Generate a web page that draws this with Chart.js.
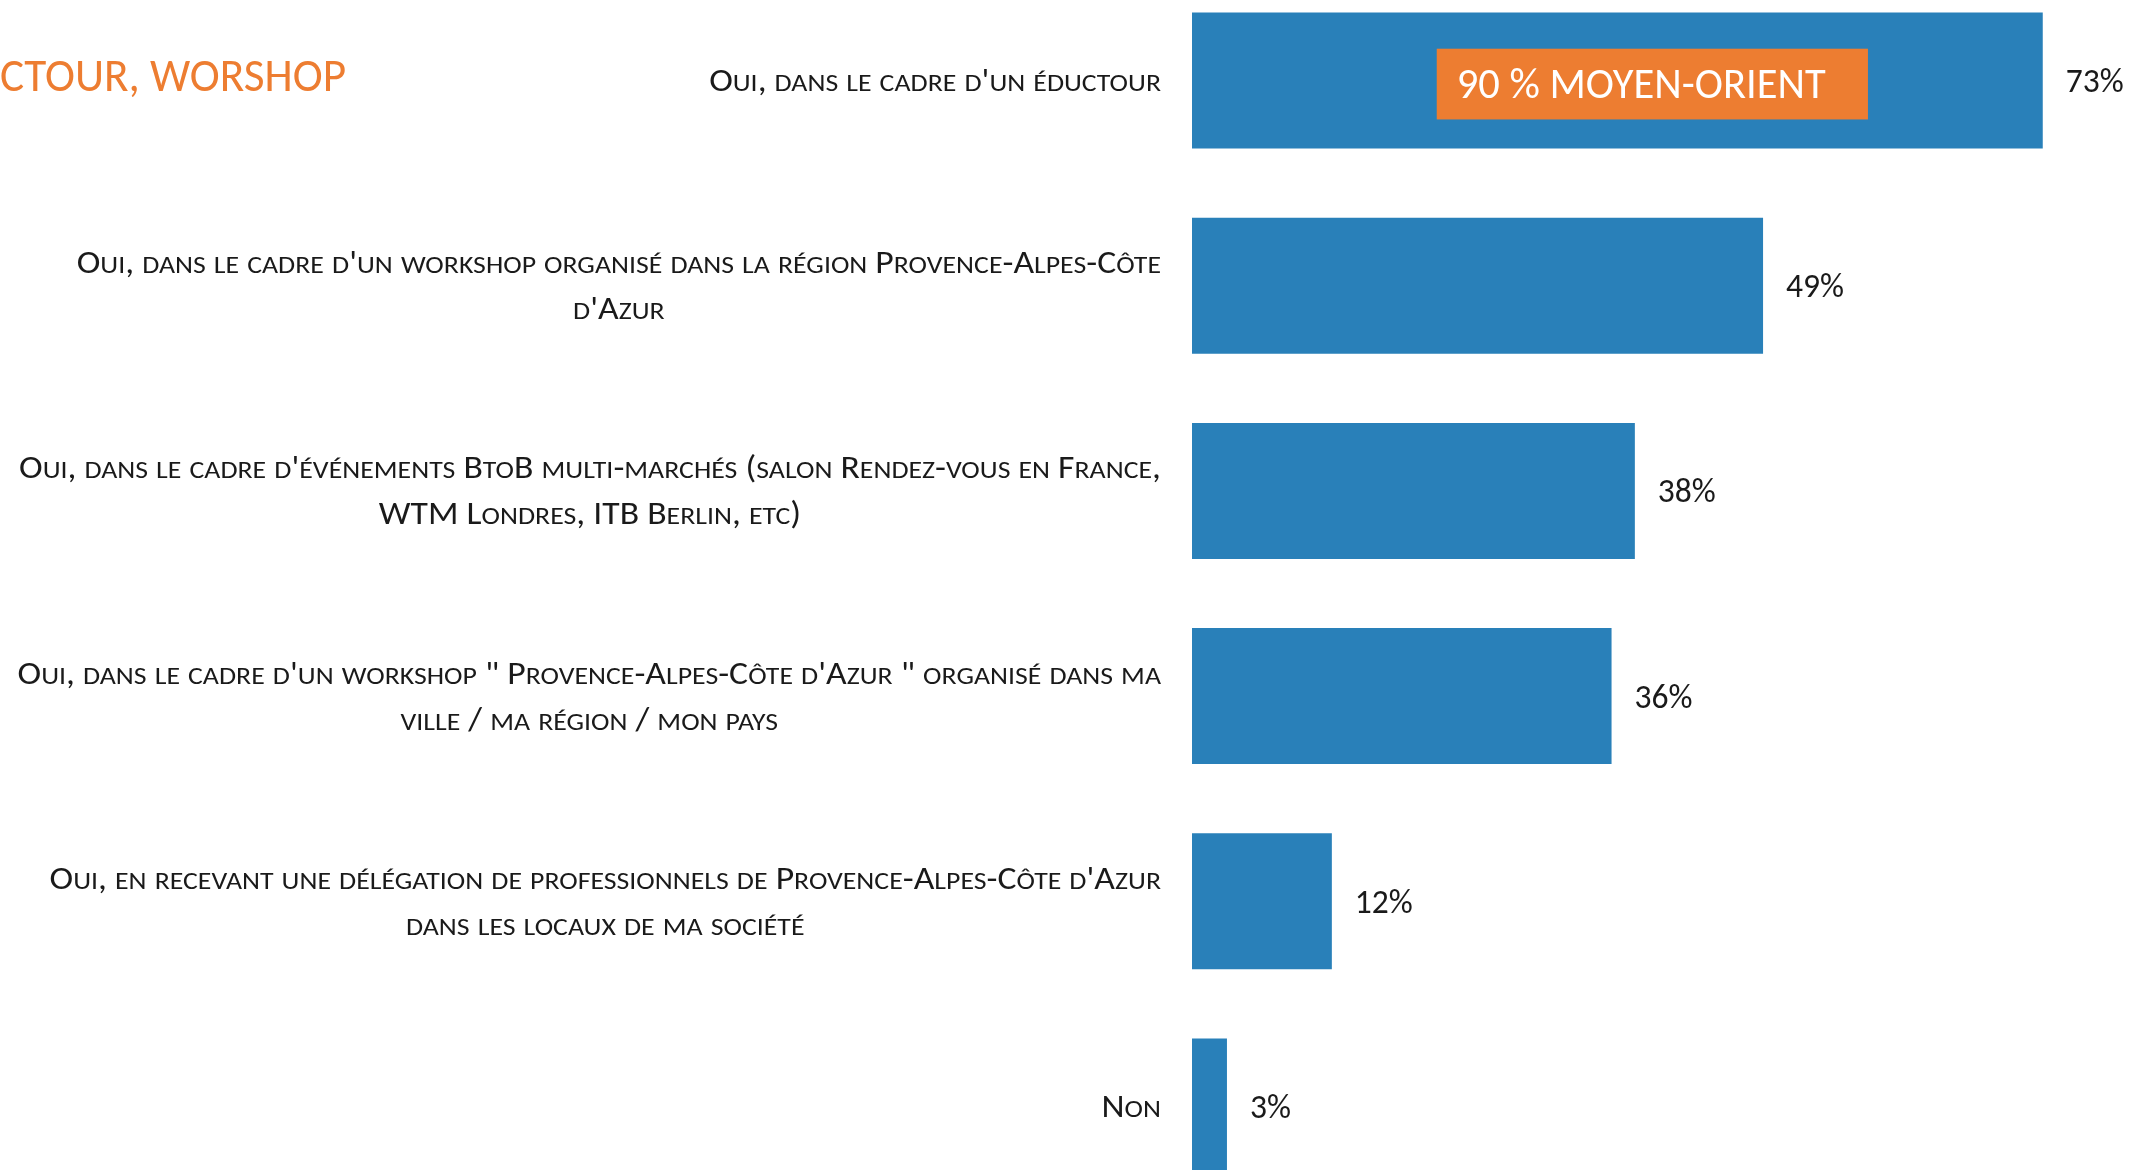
<!DOCTYPE html>
<html>
<head>
<meta charset="utf-8">
<script src="https://cdn.jsdelivr.net/npm/chart.js@4/dist/chart.umd.min.js"></script>
<style>
  html, body { margin: 0; padding: 0; background: #fff; overflow: hidden; }
  #wrap { position: relative; width: 2129px; height: 1170px; overflow: hidden; }
  #chart { position: absolute; left: 0; top: -22px; }
</style>
</head>
<body>
<div id="wrap"><canvas id="chart" width="2129" height="1231"></canvas></div>
<script>
// data
var categories = [
  ["Oui, dans le cadre d'un éductour"],
  ["Oui, dans le cadre d'un workshop organisé dans la région Provence-Alpes-Côte", "d'Azur"],
  ["Oui, dans le cadre d'événements BtoB multi-marchés (salon Rendez-vous en France,", "WTM Londres, ITB Berlin, etc)"],
  ["Oui, dans le cadre d'un workshop \" Provence-Alpes-Côte d'Azur \" organisé dans ma", "ville / ma région / mon pays"],
  ["Oui, en recevant une délégation de professionnels de Provence-Alpes-Côte d'Azur", "dans les locaux de ma société"],
  ["Non"]
];
var values = [73, 49, 38, 36, 12, 3];
var valueLabels = ["73%", "49%", "38%", "36%", "12%", "3%"];
var titleText = "ÉDUCTOUR, WORSHOP";
var calloutText = "90 % MOYEN-ORIENT";
var calloutCategory = 0;
var calloutFrom = 21, calloutTo = 58;

var FAMILY = "Carlito, 'Liberation Sans Narrow', 'Open Sans', 'Liberation Sans', sans-serif";
var BLUE = '#2980b9', ORANGE = '#ed7d31', INK = '#1a1a1a';
var SMALL = 0.78; // small-caps height relative to capitals

function setFont(ctx, size) {
  ctx.font = size + 'px ' + FAMILY;
}

// split text in runs; lowercase letters become small capitals
function runsOf(text, caps) {
  if (!caps) return [{ t: text, small: false }];
  var runs = [];
  for (var i = 0; i < text.length; i++) {
    var ch = text[i];
    var small = ch !== ch.toUpperCase();
    var t = small ? ch.toUpperCase() : ch;
    var last = runs[runs.length - 1];
    if (last && last.small === small) last.t += t; else runs.push({ t: t, small: small });
  }
  return runs;
}
function textWidth(ctx, text, caps, size) {
  var w = 0;
  runsOf(text, caps).forEach(function (r) {
    setFont(ctx, r.small ? size * SMALL : size);
    w += ctx.measureText(r.t).width;
  });
  return w;
}

// font size from cap height, horizontal squeeze from target width (Calibri-like narrow look)
var mctx = document.createElement('canvas').getContext('2d');
function fitFont(text, caps, width, cap) {
  setFont(mctx, 100);
  var c100 = mctx.measureText('H').actualBoundingBoxAscent;
  var size = 100 * cap / c100;
  return { size: size, caps: caps, cap: cap, sx: width / textWidth(mctx, text, caps, size) };
}
var labelFont = fitFont(categories[2][0], true, 1142, 21);
var valueFont = fitFont("49%", false, 58, 23);
var titleFont = fitFont("CTOUR, WORSHOP", false, 346, 31);
var calloutFont = fitFont(calloutText, false, 369, 28);

function drawText(ctx, f, text, x, y, align) {
  var w = textWidth(ctx, text, f.caps, f.size);
  var cur = align === 'center' ? -w / 2 : align === 'right' ? -w : 0;
  ctx.save();
  ctx.translate(x, y);
  ctx.scale(f.sx, 1);
  ctx.textAlign = 'left';
  ctx.textBaseline = 'alphabetic';
  runsOf(text, f.caps).forEach(function (r) {
    setFont(ctx, r.small ? f.size * SMALL : f.size);
    ctx.fillText(r.t, cur, f.cap / 2);
    cur += ctx.measureText(r.t).width;
  });
  ctx.restore();
}

var decorations = {
  id: 'decorations',
  afterDatasetsDraw: function (chart) {
    var ctx = chart.ctx;
    var xs = chart.scales.x, ys = chart.scales.y;
    var bars = chart.getDatasetMeta(0).data;
    ctx.save();

    // category labels: block right-aligned, lines centred in block
    ctx.fillStyle = INK;
    var lineH = 46;
    categories.forEach(function (lines, i) {
      var yc = ys.getPixelForTick(i);
      var w = Math.max.apply(null, lines.map(function (l) {
        return textWidth(ctx, l, true, labelFont.size);
      })) * labelFont.sx;
      var cx = ys.right - 31 - w / 2;
      lines.forEach(function (l, k) {
        drawText(ctx, labelFont, l, cx, yc + (k - (lines.length - 1) / 2) * lineH, 'center');
      });
    });

    // value labels
    bars.forEach(function (b, i) {
      drawText(ctx, valueFont, valueLabels[i], b.x + 23, b.y, 'left');
    });

    // callout on first bar
    var b0 = bars[calloutCategory];
    var x0 = xs.getPixelForValue(calloutFrom), x1 = xs.getPixelForValue(calloutTo);
    var h = b0.height * 0.52;
    var yc0 = b0.y + 3.5;
    ctx.fillStyle = ORANGE;
    ctx.fillRect(x0, yc0 - h / 2, x1 - x0, h);
    ctx.fillStyle = '#fff';
    drawText(ctx, calloutFont, calloutText, x0 + 20, yc0, 'left');

    // cut-off title at top left
    ctx.fillStyle = ORANGE;
    drawText(ctx, titleFont, titleText, 346, 97, 'right');

    ctx.restore();
  }
};

new Chart(document.getElementById('chart'), {
  type: 'bar',
  data: {
    labels: categories,
    datasets: [{
      data: values,
      backgroundColor: BLUE,
      borderWidth: 0,
      barPercentage: 0.663,
      categoryPercentage: 1
    }]
  },
  options: {
    indexAxis: 'y',
    responsive: false,
    animation: false,
    devicePixelRatio: 1,
    layout: { padding: 0 },
    plugins: {
      legend: { display: false },
      tooltip: { enabled: false }
    },
    scales: {
      x: { display: false, min: 0, max: 80.4 },
      y: {
        grid: { display: false },
        border: { display: false },
        ticks: { display: false },
        afterFit: function (s) { s.width = 1192; }
      }
    }
  },
  plugins: [decorations]
});
</script>
</body>
</html>
